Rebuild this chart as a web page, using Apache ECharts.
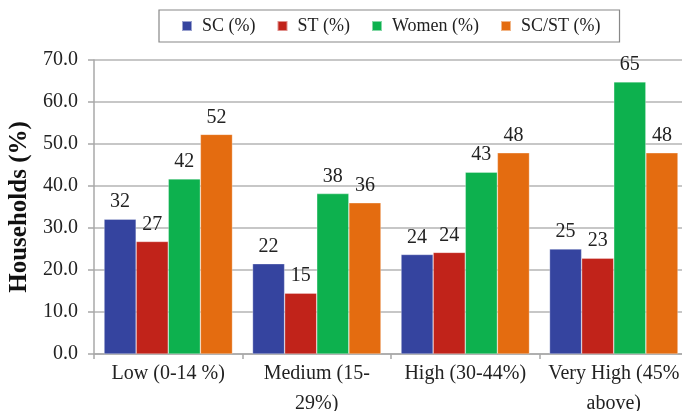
<!DOCTYPE html>
<html>
<head>
<meta charset="utf-8">
<script src="https://cdn.jsdelivr.net/npm/echarts@6/dist/echarts.min.js"></script>
<style>html,body{margin:0;padding:0;background:#fff;}#c{width:682px;height:411px;}</style>
</head>
<body>
<div id="c"></div>
<script>
const categories = ["Low (0-14 %)", "Medium (15-\n29%)", "High (30-44%)", "Very High (45%\nabove)"];
const seriesNames = ["SC (%)", "ST (%)", "Women (%)", "SC/ST (%)"];
const scValues = [32.1, 21.5, 23.7, 25.0];
const stValues = [26.8, 14.5, 24.2, 22.8];
const womenValues = [41.7, 38.2, 43.3, 64.8];
const scstValues = [52.3, 36.0, 47.9, 47.9];
const yTicks = [0, 10, 20, 30, 40, 50, 60, 70];

const colors = ["#35449f", "#c1231a", "#0db14e", "#e46c10"];
const allValues = [scValues, stValues, womenValues, scstValues];
const font = "Liberation Serif";

const chart = echarts.init(document.getElementById('c'), null, {renderer: 'canvas'});
chart.setOption({
  animation: false,
  backgroundColor: '#fff',
  legend: {
    left: 159, top: 10,
    padding: [7, 19, 7, 22],
    borderColor: '#888', borderWidth: 1.2,
    itemWidth: 10, itemHeight: 10, itemGap: 21,
    icon: 'rect',
    textStyle: {fontFamily: font, fontSize: 18, color: '#222', padding: [0, 0, 0, 5]},
    data: seriesNames
  },
  grid: {left: 94, right: -6, top: 60, bottom: 57, containLabel: false, outerBoundsMode: 'none'},
  xAxis: {
    type: 'category',
    data: categories,
    axisLine: {lineStyle: {color: '#a8a8a8', width: 1.5}},
    axisTick: {show: true, length: 5, lineStyle: {color: '#a8a8a8', width: 1.5}},
    axisLabel: {fontFamily: font, fontSize: 20, color: '#222', margin: 5, lineHeight: 30, interval: 0}
  },
  yAxis: {
    type: 'value',
    min: yTicks[0], max: yTicks[yTicks.length - 1], interval: 10,
    name: 'Households (%)',
    nameLocation: 'middle',
    nameGap: 60,
    nameTextStyle: {fontFamily: font, fontSize: 25, fontWeight: 'bold', color: '#111'},
    axisLine: {show: true, lineStyle: {color: '#a8a8a8', width: 1.5}},
    axisTick: {show: true, length: 6, lineStyle: {color: '#a8a8a8', width: 1.5}},
    splitLine: {lineStyle: {color: '#b4b4b4', width: 1.5}},
    axisLabel: {fontFamily: font, fontSize: 20, color: '#222', margin: 16,
      formatter: v => v.toFixed(1)}
  },
  series: seriesNames.map((n, i) => ({
    name: n,
    type: 'bar',
    data: allValues[i],
    barGap: '0%',
    barCategoryGap: '13.5%',
    itemStyle: {color: colors[i], borderColor: 'rgba(255,255,255,0.5)', borderWidth: 0.6},
    label: {
      show: true, position: 'top', distance: 7,
      fontFamily: font, fontSize: 20, color: '#222',
      formatter: p => Math.round(p.value)
    }
  }))
});
</script>
</body>
</html>
